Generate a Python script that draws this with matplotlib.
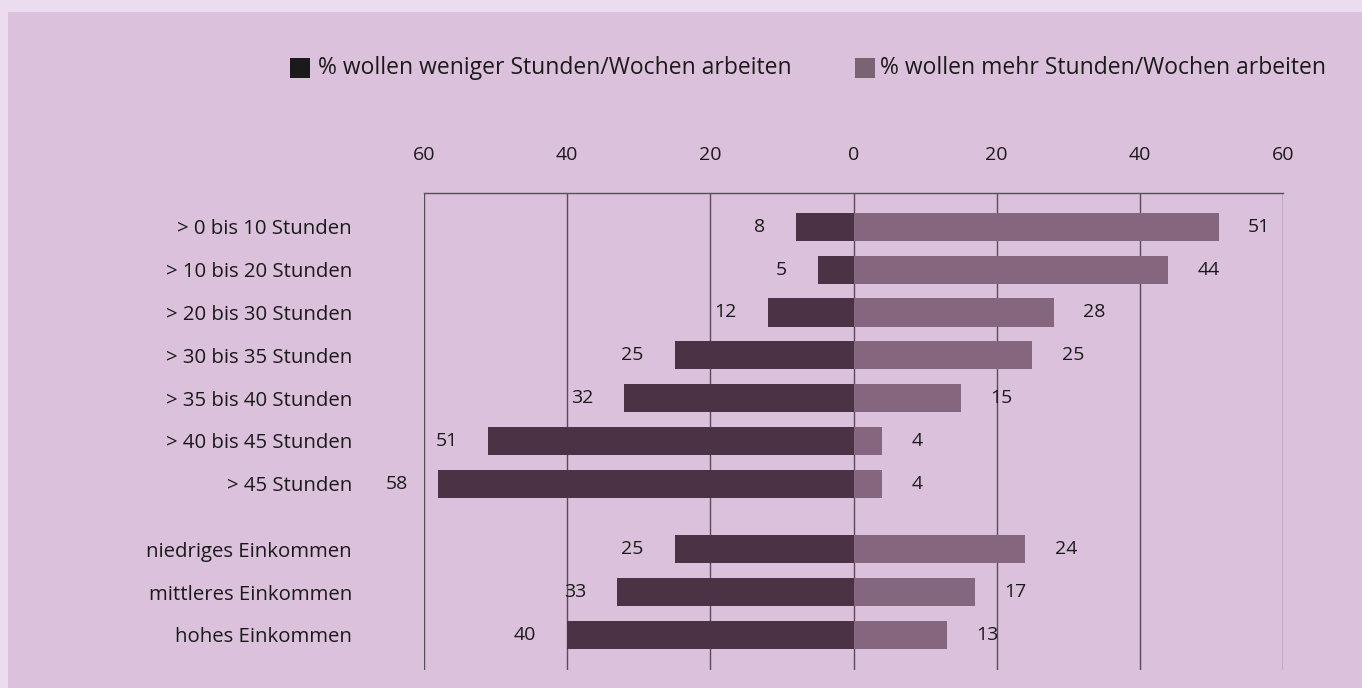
import matplotlib
matplotlib.use("Agg")
import matplotlib.pyplot as plt
from matplotlib.patches import Rectangle

categories = ["> 0 bis 10 Stunden", "> 10 bis 20 Stunden", "> 20 bis 30 Stunden",
              "> 30 bis 35 Stunden", "> 35 bis 40 Stunden", "> 40 bis 45 Stunden",
              "> 45 Stunden", "niedriges Einkommen", "mittleres Einkommen", "hohes Einkommen"]
weniger = [8, 5, 12, 25, 32, 51, 58, 25, 33, 40]
mehr = [51, 44, 28, 25, 15, 4, 4, 24, 17, 13]
ticks = [-60, -40, -20, 0, 20, 40, 60]
tick_labels = ["60", "40", "20", "0", "20", "40", "60"]
legend_labels = ["% wollen weniger Stunden/Wochen arbeiten", "% wollen mehr Stunden/Wochen arbeiten"]

plt.rcParams['font.family'] = ['Open Sans', 'DejaVu Sans']
bg = '#dcc1dc'
c_dark = '#4b3244'
c_light = '#84677e'
txt = '#1a1a1a'

fig = plt.figure(figsize=(13.62, 6.88), dpi=100)
fig.patch.set_facecolor('#ecdcf0')
fig.patches.append(Rectangle((8/1362, 0), 1, 1 - 12/688, transform=fig.transFigure,
                             facecolor=bg, edgecolor='none', zorder=-10))

ax = fig.add_axes([424/1362, 1 - 670/688, (1283 - 424)/1362, (670 - 193)/688])
ax.set_facecolor('none')

ypos = [i if i < 7 else i + 0.53 for i in range(len(categories))]
h = 0.66
ax.barh(ypos, [-w for w in weniger], height=h, color=c_dark, zorder=3)
ax.barh(ypos, mehr, height=h, color=c_light, zorder=3)

for y, w, m in zip(ypos, weniger, mehr):
    ax.text(-w - 4.3, y, str(w), ha='right', va='center', fontsize=14, color=txt)
    ax.text(m + 4.1, y, str(m), ha='left', va='center', fontsize=14, color=txt)

ax.set_xlim(-60, 60)
ax.set_ylim(10.35, -0.79)
ax.set_yticks(ypos)
ax.set_yticklabels(categories, fontsize=14.7, color=txt)
ax.tick_params(axis='y', length=0, pad=52)
ax.xaxis.tick_top()
ax.set_xticks(ticks)
ax.set_xticklabels(tick_labels, fontsize=14, color=txt)
ax.tick_params(axis='x', length=0, pad=21)
for t in ticks:
    ax.axvline(t, color='#555055', lw=1.0, zorder=1)
for s in ['left', 'right', 'bottom']:
    ax.spines[s].set_visible(False)
ax.spines['top'].set_color('#555055')
ax.spines['top'].set_linewidth(1.0)

# legend
fig.patches.append(Rectangle((290/1362, 1 - 78/688), 20/1362, 20/688, transform=fig.transFigure,
                             facecolor='#1a1a1a', edgecolor='none'))
fig.text(318/1362, 1 - 68/688, legend_labels[0], fontsize=16.5, color=txt, va='center', ha='left')
fig.patches.append(Rectangle((855/1362, 1 - 78/688), 20/1362, 20/688, transform=fig.transFigure,
                             facecolor='#7a6474', edgecolor='none'))
fig.text(880/1362, 1 - 68/688, legend_labels[1], fontsize=16.5, color=txt, va='center', ha='left')

fig.savefig('out.png', dpi=100, facecolor=fig.get_facecolor())
